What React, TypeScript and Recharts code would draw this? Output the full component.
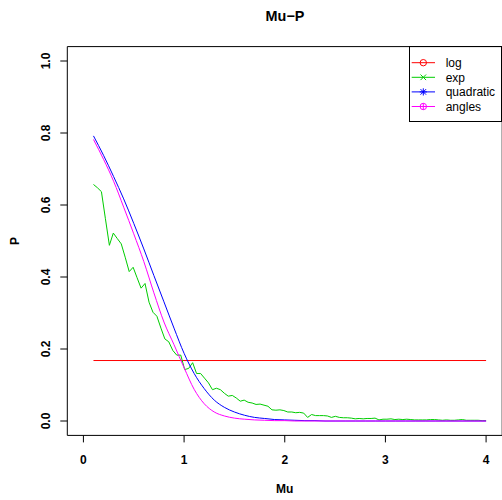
import React from 'react';
import { LineChart, Line, XAxis, YAxis, ReferenceArea, Label, Customized } from 'recharts';

// x grid of the "exp" series (100 points from 0.1 to 4)
const expMu = [
  0.100, 0.139, 0.179, 0.218, 0.258, 0.297, 0.336, 0.376, 0.415, 0.455,
  0.494, 0.533, 0.573, 0.612, 0.652, 0.691, 0.730, 0.770, 0.809, 0.848,
  0.888, 0.927, 0.967, 1.006, 1.045, 1.085, 1.124, 1.164, 1.203, 1.242,
  1.282, 1.321, 1.361, 1.400, 1.439, 1.479, 1.518, 1.558, 1.597, 1.636,
  1.676, 1.715, 1.755, 1.794, 1.833, 1.873, 1.912, 1.952, 1.991, 2.030,
  2.070, 2.109, 2.148, 2.188, 2.227, 2.267, 2.306, 2.345, 2.385, 2.424,
  2.464, 2.503, 2.542, 2.582, 2.621, 2.661, 2.700, 2.739, 2.779, 2.818,
  2.858, 2.897, 2.936, 2.976, 3.015, 3.055, 3.094, 3.133, 3.173, 3.212,
  3.252, 3.291, 3.330, 3.370, 3.409, 3.448, 3.488, 3.527, 3.567, 3.606,
  3.645, 3.685, 3.724, 3.764, 3.803, 3.842, 3.882, 3.921, 3.961, 4.000,
];
const expValues = [
  0.657, 0.648, 0.637, 0.563, 0.488, 0.522, 0.507, 0.492, 0.455, 0.415,
  0.427, 0.398, 0.369, 0.382, 0.330, 0.302, 0.291, 0.258, 0.228, 0.220,
  0.196, 0.183, 0.183, 0.143, 0.146, 0.162, 0.132, 0.132, 0.119, 0.106,
  0.087, 0.091, 0.087, 0.077, 0.069, 0.071, 0.064, 0.055, 0.058, 0.052,
  0.050, 0.046, 0.047, 0.044, 0.041, 0.031, 0.030, 0.031, 0.029, 0.025,
  0.025, 0.023, 0.024, 0.022, 0.010, 0.018, 0.015, 0.015, 0.015, 0.014,
  0.010, 0.013, 0.010, 0.009, 0.009, 0.008, 0.006, 0.007, 0.006, 0.007,
  0.007, 0.008, 0.003, 0.005, 0.005, 0.006, 0.004, 0.005, 0.004, 0.005,
  0.004, 0.003, 0.003, 0.003, 0.003, 0.004, 0.004, 0.003, 0.002, 0.003,
  0.002, 0.002, 0.003, 0.004, 0.002, 0.002, 0.002, 0.002, 0.001, 0.001,
];

// x grid of the smooth series
const smoothMu = [
  0.1, 0.2, 0.3, 0.4, 0.5, 0.6, 0.7, 0.8, 0.9, 1.0,
  1.1, 1.2, 1.3, 1.4, 1.5, 1.6, 1.7, 1.8, 1.9, 2.0,
  2.1, 2.2, 2.3, 2.4, 2.5, 2.6, 2.7, 2.8, 2.9, 3.0,
  3.1, 3.2, 3.3, 3.4, 3.5, 3.6, 3.7, 3.8, 3.9, 4.0,
];
const quadraticValues = [
  0.792, 0.738, 0.679, 0.617, 0.549, 0.478, 0.404, 0.331, 0.258, 0.188,
  0.132, 0.090, 0.058, 0.038, 0.025, 0.016, 0.010, 0.007, 0.004, 0.003,
  0.002, 0.001, 0.001, 0, 0, 0, 0, 0, 0, 0,
  0, 0, 0, 0, 0, 0, 0, 0, 0, 0,
];
const anglesValues = [
  0.782, 0.727, 0.666, 0.594, 0.520, 0.443, 0.356, 0.275, 0.212, 0.148,
  0.088, 0.048, 0.025, 0.014, 0.008, 0.005, 0.003, 0.002, 0.001, 0.001,
  0, 0, 0, 0, 0, 0, 0, 0, 0, 0,
  0, 0, 0, 0, 0, 0, 0, 0, 0, 0,
];

const logMu = [0.1, 4.0];
const logValues = [0.168, 0.168];

const xTicks = [0, 1, 2, 3, 4];
const xTickLabels = ['0', '1', '2', '3', '4'];
const yTicks = [0, 0.2, 0.4, 0.6, 0.8, 1.0];
const yTickLabels = ['0.0', '0.2', '0.4', '0.6', '0.8', '1.0'];

const seriesNames = ['log', 'exp', 'quadratic', 'angles'];
const seriesColors = ['#FF0000', '#00CD00', '#0000FF', '#FF00FF'];

const FONT = '"Liberation Sans", Arial, Helvetica, sans-serif';

const toRows = (xs: number[], ys: number[]) => xs.map((mu, i) => ({ mu, p: ys[i] }));
const logData = toRows(logMu, logValues);
const expData = toRows(expMu, expValues);
const quadraticData = toRows(smoothMu, quadraticValues);
const anglesData = toRows(smoothMu, anglesValues);

function XTick(props: any) {
  const { x, index } = props;
  return (
    <text x={x} y={464} textAnchor="middle" fontSize={12} fontWeight="bold" fontFamily={FONT} fill="#000">
      {xTickLabels[index]}
    </text>
  );
}

function YTick(props: any) {
  const { y, index } = props;
  const tx = 49.5;
  return (
    <text x={tx} y={y} transform={`rotate(-90, ${tx}, ${y})`} textAnchor="middle" fontSize={12} fontWeight="bold" fontFamily={FONT} fill="#000">
      {yTickLabels[index]}
    </text>
  );
}

function Marker({ kind, cx, cy, color }: { kind: number; cx: number; cy: number; color: string }) {
  const r = 3.2;
  if (kind === 0) return <circle cx={cx} cy={cy} r={r} fill="none" stroke={color} strokeWidth={1} />;
  if (kind === 1)
    return (
      <g stroke={color} strokeWidth={1}>
        <line x1={cx - 2.8} y1={cy - 2.8} x2={cx + 2.8} y2={cy + 2.8} />
        <line x1={cx - 2.8} y1={cy + 2.8} x2={cx + 2.8} y2={cy - 2.8} />
      </g>
    );
  if (kind === 2)
    return (
      <g stroke={color} strokeWidth={1}>
        <line x1={cx - 2.8} y1={cy - 2.8} x2={cx + 2.8} y2={cy + 2.8} />
        <line x1={cx - 2.8} y1={cy + 2.8} x2={cx + 2.8} y2={cy - 2.8} />
        <line x1={cx - 3.6} y1={cy} x2={cx + 3.6} y2={cy} />
        <line x1={cx} y1={cy - 3.6} x2={cx} y2={cy + 3.6} />
      </g>
    );
  return (
    <g stroke={color} strokeWidth={1} fill="none">
      <circle cx={cx} cy={cy} r={r} />
      <line x1={cx - r} y1={cy} x2={cx + r} y2={cy} />
      <line x1={cx} y1={cy - r} x2={cx} y2={cy + r} />
    </g>
  );
}

function LegendBox() {
  const w = 93;
  const h = 76;
  return (
    <g transform="translate(409, 46)">
      <rect x={0.5} y={0.5} width={w - 1} height={h - 1} fill="#fff" stroke="#000" strokeWidth={1} />
      {seriesNames.map((name, i) => {
        const cy = 16.7 + i * 14.6;
        return (
          <g key={name}>
            <line x1={2.7} y1={cy} x2={26} y2={cy} stroke={seriesColors[i]} strokeWidth={1} />
            <Marker kind={i} cx={14.3} cy={cy} color={seriesColors[i]} />
            <text x={36.7} y={cy + 4.3} fontSize={12} fontFamily={FONT} fill="#000">
              {name}
            </text>
          </g>
        );
      })}
    </g>
  );
}

function Title() {
  return (
    <text x={285} y={21} textAnchor="middle" fontSize={14.4} fontWeight="bold" fontFamily={FONT} fill="#000">
      Mu−P
    </text>
  );
}

export default function App() {
  return (
    <div style={{ position: 'absolute', left: 0, top: 0, width: 502, height: 500, overflow: 'hidden', background: '#fff' }}>
      <LineChart width={503} height={500} margin={{ top: 46.6, right: 0.8, bottom: 0, left: 0 }}>
        <XAxis
          type="number"
          dataKey="mu"
          domain={[-0.16, 4.16]}
          ticks={xTicks}
          interval={0}
          allowDataOverflow
          height={64.6}
          axisLine={false}
          tickLine={{ stroke: '#000', strokeWidth: 1 }}
          tickSize={7}
          tick={<XTick />}
          label={
            <Label
              content={(p: any) => {
                const vb = p.viewBox || { x: 67.3, width: 434.9 };
                return (
                  <text x={vb.x + vb.width / 2} y={493} textAnchor="middle" fontSize={12} fontWeight="bold" fontFamily={FONT} fill="#000">
                    Mu
                  </text>
                );
              }}
            />
          }
        />
        <YAxis
          type="number"
          domain={[-0.04, 1.04]}
          ticks={yTicks}
          interval={0}
          allowDataOverflow
          width={67.3}
          axisLine={false}
          tickLine={{ stroke: '#000', strokeWidth: 1 }}
          tickSize={7}
          tick={<YTick />}
          label={
            <Label
              content={(p: any) => {
                const vb = p.viewBox || { y: 46.6, height: 388.8 };
                const cy = vb.y + vb.height / 2;
                return (
                  <text x={19.3} y={cy} transform={`rotate(-90, 19.3, ${cy})`} textAnchor="middle" fontSize={12} fontWeight="bold" fontFamily={FONT} fill="#000">
                    P
                  </text>
                );
              }}
            />
          }
        />
        <ReferenceArea
          x1={-0.16}
          x2={4.16}
          y1={-0.04}
          y2={1.04}
          ifOverflow="visible"
          fill="#ffffff"
          fillOpacity={0}
          stroke="#000000"
          strokeOpacity={1}
          strokeWidth={1}
        />
        <Line data={logData} dataKey="p" name="log" type="linear" stroke={seriesColors[0]} strokeWidth={1} dot={false} isAnimationActive={false} />
        <Line data={expData} dataKey="p" name="exp" type="linear" stroke={seriesColors[1]} strokeWidth={1} dot={false} isAnimationActive={false} />
        <Line data={quadraticData} dataKey="p" name="quadratic" type="monotone" stroke={seriesColors[2]} strokeWidth={1} dot={false} isAnimationActive={false} />
        <Line data={anglesData} dataKey="p" name="angles" type="monotone" stroke={seriesColors[3]} strokeWidth={1} dot={false} isAnimationActive={false} />
        <Customized component={<LegendBox />} />
        <Customized component={<Title />} />
      </LineChart>
    </div>
  );
}
